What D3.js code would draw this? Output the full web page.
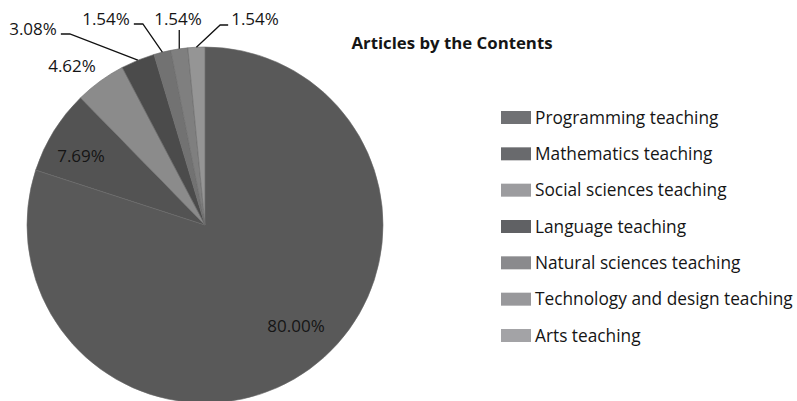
<!DOCTYPE html>
<html>
<head>
<meta charset="utf-8">
<script src="https://cdn.jsdelivr.net/npm/d3@7/dist/d3.min.js"></script>
<style>
  html, body { margin: 0; padding: 0; background: #fff; }
  svg { display: block; }
  text { font-family: "Open Sans", "Noto Sans", sans-serif; fill: #151515; }
</style>
</head>
<body>
<svg id="chart" width="797" height="401"></svg>
<script>
// Share of articles by teaching content
const categories = [
  "Programming teaching",
  "Mathematics teaching",
  "Social sciences teaching",
  "Language teaching",
  "Natural sciences teaching",
  "Technology and design teaching",
  "Arts teaching"
];
const percents = [80.00, 7.69, 4.62, 3.08, 1.54, 1.54, 1.54];
const percentLabels = ["80.00%", "7.69%", "4.62%", "3.08%", "1.54%", "1.54%", "1.54%"];
const chartTitle = "Articles by the Contents";

// Greys for slices and legend swatches
const sliceColors  = ["#595959", "#535353", "#8b8b8b", "#4b4b4b", "#727272", "#7f7f7f", "#959595"];
const swatchColors = ["#707174", "#696a6d", "#9c9c9f", "#606164", "#8a8a8d", "#98989b", "#a3a3a6"];

// Label placement: inside labels sit on the slice, outside ones get a leader line
const labelLayout = [
  { inside: true,  x: 296, y: 332 },
  { inside: true,  x: 81,  y: 162 },
  { inside: false, x: 72,  y: 72,  leader: false },
  { inside: false, x: 33,  y: 35,  leader: true },
  { inside: false, x: 106, y: 25,  leader: true },
  { inside: false, x: 178, y: 25,  leader: true },
  { inside: false, x: 255, y: 25,  leader: true }
];

const svg = d3.select("#chart");
const cx = 205, cy = 225, radius = 178;

const data = categories.map((c, i) => ({ name: c, value: percents[i], i }));

const pie = d3.pie().sort(null).value(d => d.value)
  .startAngle(0).endAngle(2 * Math.PI);
const arc = d3.arc().innerRadius(0).outerRadius(radius);
const arcs = pie(data);

const g = svg.append("g").attr("transform", `translate(${cx},${cy})`);

g.selectAll("path.slice")
  .data(arcs)
  .join("path")
  .attr("class", "slice")
  .attr("d", arc)
  .attr("fill", d => sliceColors[d.data.i])
  .attr("stroke", "#6a6a6a")
  .attr("stroke-width", 0.6);

// Data labels
const labels = svg.append("g").attr("font-size", 17);
arcs.forEach(a => {
  const i = a.data.i;
  const L = labelLayout[i];
  const t = labels.append("text")
    .attr("x", L.x).attr("y", L.y)
    .attr("text-anchor", "middle")
    .text(percentLabels[i]);
  if (!L.leader) return;
  const w = t.node().getComputedTextLength();
  const mid = (a.startAngle + a.endAngle) / 2;
  const ex = cx + radius * Math.sin(mid);
  const ey = cy - radius * Math.cos(mid);
  const left = L.x - w / 2, right = L.x + w / 2;
  let pts;
  if (ex >= left && ex <= right) {
    pts = [[ex, L.y + 5], [ex, ey]];
  } else if (ex > right) {
    const sy = L.y - 1;
    pts = [[right + 4, sy], [right + 13, sy], [ex, ey]];
  } else {
    const sy = L.y;
    pts = [[left - 3, sy], [left - 11, sy], [ex, ey]];
  }
  labels.append("path")
    .attr("d", d3.line()(pts))
    .attr("fill", "none")
    .attr("stroke", "#111")
    .attr("stroke-width", 1.3);
});

// Title
svg.append("text")
  .attr("x", 452).attr("y", 49)
  .attr("text-anchor", "middle")
  .attr("font-size", 16.8)
  .attr("font-weight", "bold")
  .text(chartTitle);

// Legend
const legendY = d3.scalePoint()
  .domain(categories)
  .range([117.5, 335.5]);

const legend = svg.append("g");
const rows = legend.selectAll("g")
  .data(categories)
  .join("g")
  .attr("transform", d => `translate(501,${legendY(d)})`);

rows.append("rect")
  .attr("x", 0).attr("y", -6.5)
  .attr("width", 30).attr("height", 13)
  .attr("fill", (d, i) => swatchColors[i]);

rows.append("text")
  .attr("x", 34).attr("y", 6.2)
  .attr("font-size", 17.3)
  .text(d => d);
</script>
</body>
</html>
